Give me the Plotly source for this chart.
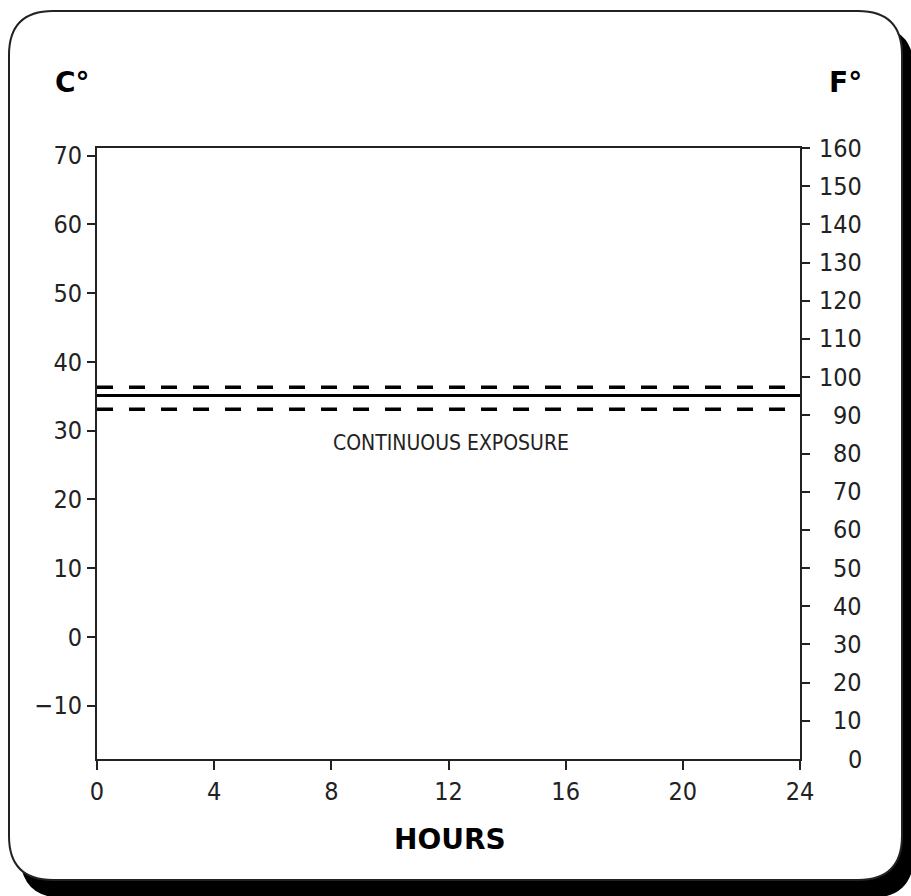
import plotly.graph_objects as go

# ---- data ----
hours = [0, 24]
limit_solid_c = [35.1, 35.1]
limit_upper_c = [36.3, 36.3]
limit_lower_c = [33.1, 33.1]
x_ticks = [0, 4, 8, 12, 16, 20, 24]
c_ticks = [-10, 0, 10, 20, 30, 40, 50, 60, 70]
c_tick_text = ["\u221210", "0", "10", "20", "30", "40", "50", "60", "70"]
f_ticks = [0, 10, 20, 30, 40, 50, 60, 70, 80, 90, 100, 110, 120, 130, 140, 150, 160]
label_text = "CONTINUOUS EXPOSURE"
label_pos = (12.1, 28.2)

F_MIN, F_MAX = 0, 160
C_MIN = (F_MIN - 32) * 5 / 9
C_MAX = (F_MAX - 32) * 5 / 9

W, H = 911, 896
L, R, T, B = 97, 111, 148, 137
PW, PH = W - L - R, H - T - B

def px(x):
    return (x - L) / PW

def py(y):
    return (H - B - y) / PH

def rounded_path(x0, y0, x1, y1, r):
    pts = [
        f"M {px(x0 + r)},{py(y0)}",
        f"L {px(x1 - r)},{py(y0)}",
        f"Q {px(x1)},{py(y0)} {px(x1)},{py(y0 + r)}",
        f"L {px(x1)},{py(y1 - r)}",
        f"Q {px(x1)},{py(y1)} {px(x1 - r)},{py(y1)}",
        f"L {px(x0 + r)},{py(y1)}",
        f"Q {px(x0)},{py(y1)} {px(x0)},{py(y1 - r)}",
        f"L {px(x0)},{py(y0 + r)}",
        f"Q {px(x0)},{py(y0)} {px(x0 + r)},{py(y0)}",
        "Z",
    ]
    return " ".join(pts)

FONT = "DejaVu Sans Condensed, DejaVu Sans, sans-serif"

fig = go.Figure()
fig.add_trace(go.Scatter(x=hours, y=limit_upper_c, mode="lines",
                         line=dict(color="black", width=3.5, dash="16px,16px"),
                         showlegend=False, hoverinfo="skip"))
fig.add_trace(go.Scatter(x=hours, y=limit_solid_c, mode="lines",
                         line=dict(color="black", width=3),
                         showlegend=False, hoverinfo="skip"))
fig.add_trace(go.Scatter(x=hours, y=limit_lower_c, mode="lines",
                         line=dict(color="black", width=3.5, dash="16px,16px"),
                         showlegend=False, hoverinfo="skip"))
# invisible trace for the right axis
fig.add_trace(go.Scatter(x=[0], y=[0], yaxis="y2", mode="markers",
                         marker=dict(opacity=0), showlegend=False, hoverinfo="skip"))

shapes = [
    dict(type="path", xref="paper", yref="paper", layer="below",
         path=rounded_path(20, 26, 914, 898, 44),
         fillcolor="black", line=dict(color="black", width=0)),
    dict(type="path", xref="paper", yref="paper", layer="below",
         path=rounded_path(9, 11, 902, 880, 44),
         fillcolor="white", line=dict(color="#222", width=2)),
]

annotations = [
    dict(text=label_text, x=label_pos[0], y=label_pos[1], xref="x", yref="y",
         xanchor="center", yanchor="middle",
         showarrow=False, font=dict(family=FONT, size=21, color="#222")),
    dict(text="<b>C°</b>", x=px(72), y=py(83), xref="paper", yref="paper",
         xanchor="center", yanchor="middle",
         showarrow=False, font=dict(family="DejaVu Sans", size=28, color="black")),
    dict(text="<b>F°</b>", x=px(845), y=py(83), xref="paper", yref="paper",
         xanchor="center", yanchor="middle",
         showarrow=False, font=dict(family="DejaVu Sans", size=28, color="black")),
    dict(text="<b>HOURS</b>", x=px(450), y=py(839), xref="paper", yref="paper",
         xanchor="center", yanchor="middle",
         showarrow=False, font=dict(family="DejaVu Sans", size=28, color="black")),
]
for f in f_ticks:
    annotations.append(dict(text=str(f), x=px(864), y=f, xref="paper", yref="y2",
                            xanchor="right", yanchor="middle", showarrow=False,
                            font=dict(family=FONT, size=25, color="#222")))

fig.update_layout(
    width=W, height=H,
    margin=dict(l=L, r=R, t=T, b=B),
    paper_bgcolor="white", plot_bgcolor="rgba(0,0,0,0)",
    shapes=shapes, annotations=annotations,
    xaxis=dict(range=[0, 24], tickvals=x_ticks, ticks="outside", ticklen=9,
               tickwidth=2, tickcolor="#222", showline=True, linewidth=2,
               linecolor="#222", mirror=True, showgrid=False, zeroline=False,
               tickfont=dict(family=FONT, size=25, color="#222")),
    yaxis=dict(range=[C_MIN, C_MAX], tickvals=c_ticks, ticktext=c_tick_text,
               ticks="outside", ticklen=8, tickwidth=2, tickcolor="#222",
               showline=True, linewidth=2, linecolor="#222", showgrid=False,
               zeroline=False,
               tickfont=dict(family=FONT, size=25, color="#222")),
    yaxis2=dict(range=[F_MIN, F_MAX], overlaying="y", side="right",
                tickvals=f_ticks[1:], showticklabels=False, ticks="outside",
                ticklen=8, tickwidth=2, tickcolor="#222", showline=True,
                linewidth=2, linecolor="#222", showgrid=False, zeroline=False),
)

fig.write_html("out.html",
               config={"displayModeBar": False},
               post_script="document.body.style.margin='0';document.body.style.overflow='hidden';")
